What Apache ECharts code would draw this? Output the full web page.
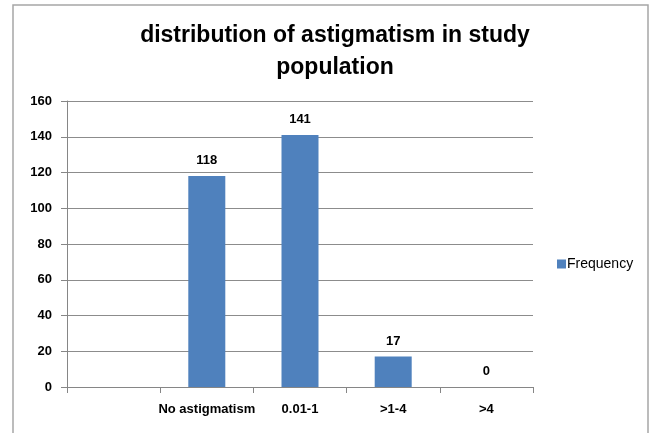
<!DOCTYPE html>
<html>
<head>
<meta charset="utf-8">
<script src="https://cdn.jsdelivr.net/npm/echarts@6/dist/echarts.min.js"></script>
<style>
  html, body { margin: 0; padding: 0; background: #fff; }
  #chart { width: 650px; height: 433px; }
</style>
</head>
<body>
<div id="chart"></div>
<script>
// values
var categories = ['', 'No astigmatism', '0.01-1', '>1-4', '>4'];
var frequency = [null, 118, 141, 17, 0];
var yTicks = [0, 20, 40, 60, 80, 100, 120, 140, 160];

var chart = echarts.init(document.getElementById('chart'));
var font = 'Liberation Sans, Arial, sans-serif';

chart.setOption({
    animation: false,
    backgroundColor: '#fff',
    title: {
        text: 'distribution of astigmatism in study\npopulation',
        left: 330,
        textAlign: 'center',
        top: 15,
        textStyle: { fontFamily: font, fontSize: 23, fontWeight: 'bold', color: '#000', lineHeight: 32 }
    },
    legend: {
        data: [{ name: 'Frequency', icon: 'rect' }],
        left: 552,
        top: 252,
        orient: 'vertical',
        itemWidth: 9,
        itemHeight: 9,
        itemGap: 2,
        textStyle: { fontFamily: font, fontSize: 14, color: '#000', padding: [0, 0, 0, -4] }
    },
    graphic: [{
        type: 'rect',
        shape: { x: 13, y: 5, width: 635, height: 440 },
        style: { fill: 'none', stroke: '#a6a6a6', lineWidth: 1.5 },
        silent: true
    }],
    grid: { left: 67, right: 117, top: 101, bottom: 46, containLabel: false },
    xAxis: {
        type: 'category',
        data: categories,
        axisLine: { lineStyle: { color: '#868686' } },
        axisTick: { show: true, length: 6, lineStyle: { color: '#868686' } },
        axisLabel: { margin: 16, fontFamily: font, fontSize: 13, fontWeight: 'bold', color: '#000', interval: 0 }
    },
    yAxis: {
        type: 'value',
        min: yTicks[0],
        max: yTicks[yTicks.length - 1],
        interval: 20,
        axisLine: { show: true, lineStyle: { color: '#868686' } },
        axisTick: { show: true, length: 6, lineStyle: { color: '#868686' } },
        splitLine: { lineStyle: { color: '#8c8c8c' } },
        axisLabel: { margin: 15, fontFamily: font, fontSize: 13, fontWeight: 'bold', color: '#000' }
    },
    series: [{
        name: 'Frequency',
        type: 'bar',
        data: frequency,
        barWidth: 37,
        itemStyle: { color: '#4f81bd' },
        label: {
            show: true,
            position: 'top',
            distance: 9,
            fontFamily: font,
            fontSize: 13,
            fontWeight: 'bold',
            color: '#000'
        }
    }]
});
</script>
</body>
</html>
